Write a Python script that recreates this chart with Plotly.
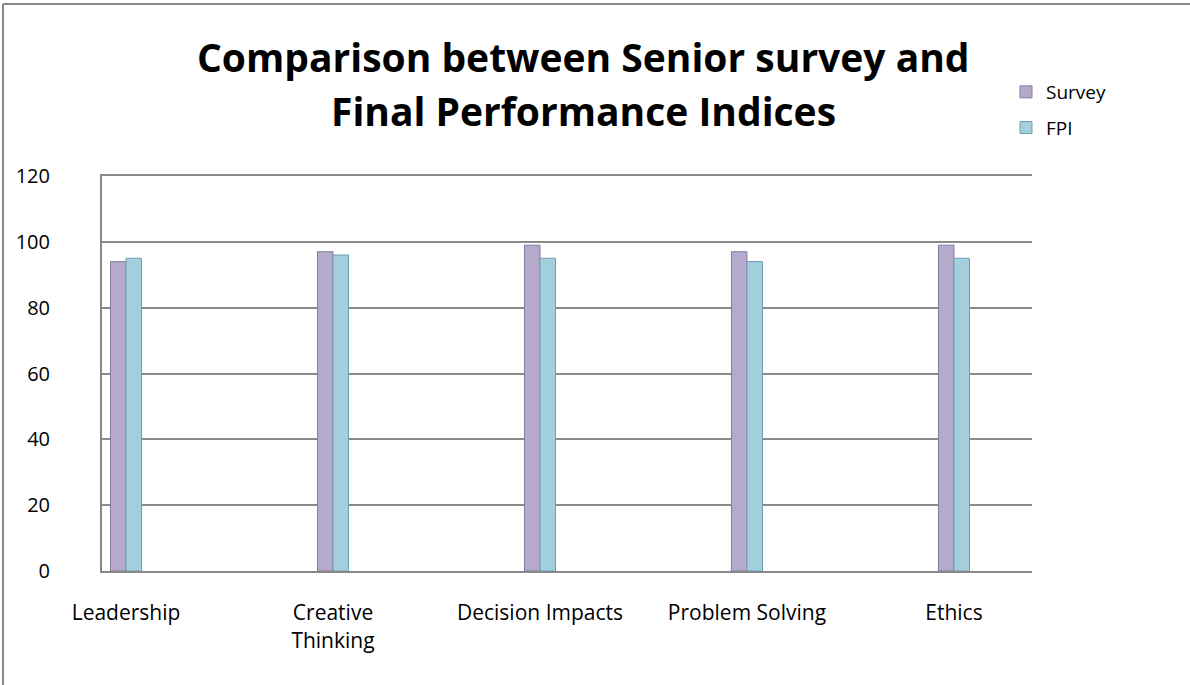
import plotly.graph_objects as go

# Category labels along the horizontal axis
categories = ["Leadership", "Creative<br>Thinking", "Decision Impacts",
              "Problem Solving", "Ethics"]

# Series values
survey = [94, 97, 99, 97, 99]
fpi = [95, 96, 95, 94, 95]

# Y axis ticks
y_ticks = [0, 20, 40, 60, 80, 100, 120]

W, H = 1190, 685
L, R, T, B = 102, 158, 176, 114
plot_w = W - L - R
plot_h = H - T - B

FONT = "Open Sans"

fig = go.Figure()
fig.add_trace(go.Bar(
    x=categories, y=survey, name="Survey", legendgroup="s",
    marker=dict(color="#b5aacb", line=dict(color="#857a9f", width=1)),
))
fig.add_trace(go.Bar(
    x=categories, y=fpi, name="FPI", legendgroup="f",
    marker=dict(color="#a3cfdc", line=dict(color="#6f9fae", width=1)),
))

# Outer chart frame (top and left edges)
def px_to_paper_x(px):
    return (px - L) / plot_w

def px_to_paper_y(py):
    return (H - B - py) / plot_h

fig.add_shape(type="line", xref="paper", yref="paper",
              x0=px_to_paper_x(3), x1=px_to_paper_x(1190),
              y0=px_to_paper_y(4), y1=px_to_paper_y(4),
              line=dict(color="#888888", width=2))
fig.add_shape(type="line", xref="paper", yref="paper",
              x0=px_to_paper_x(3), x1=px_to_paper_x(3),
              y0=px_to_paper_y(4), y1=px_to_paper_y(685),
              line=dict(color="#888888", width=2))

# Two-line chart title
for text, py in [("Comparison between Senior survey and", 57),
                 ("Final Performance Indices", 110)]:
    fig.add_annotation(text=f"<b>{text}</b>", xref="paper", yref="paper",
                       x=px_to_paper_x(583), y=px_to_paper_y(py),
                       xanchor="center", yanchor="middle", showarrow=False,
                       font=dict(family=FONT, size=39, color="#000000"))

fig.update_layout(
    width=W, height=H,
    margin=dict(l=L, r=R, t=T, b=B),
    paper_bgcolor="white", plot_bgcolor="white",
    barmode="group", bargap=0.85, bargroupgap=0.0,
    font=dict(family=FONT, size=20, color="#000000"),
    legend=dict(x=px_to_paper_x(1006), y=px_to_paper_y(73),
                xanchor="left", yanchor="top",
                font=dict(family=FONT, size=19),
                tracegroupgap=8, itemwidth=30),
    showlegend=True,
)
fig.update_xaxes(
    type="category", range=[-0.116, 4.377],
    showline=True, linecolor="#888888", linewidth=2, mirror=True,
    showgrid=False, ticks="", ticklabelstandoff=22,
    tickfont=dict(family=FONT, size=21),
)
fig.update_yaxes(
    range=[0, 120], tickvals=y_ticks,
    showline=True, linecolor="#888888", linewidth=2,
    showgrid=True, gridcolor="#8a8a8a", gridwidth=2,
    zeroline=False, ticks="", ticklabelstandoff=46,
    tickfont=dict(family=FONT, size=20),
)

fig.write_html("out.html")
